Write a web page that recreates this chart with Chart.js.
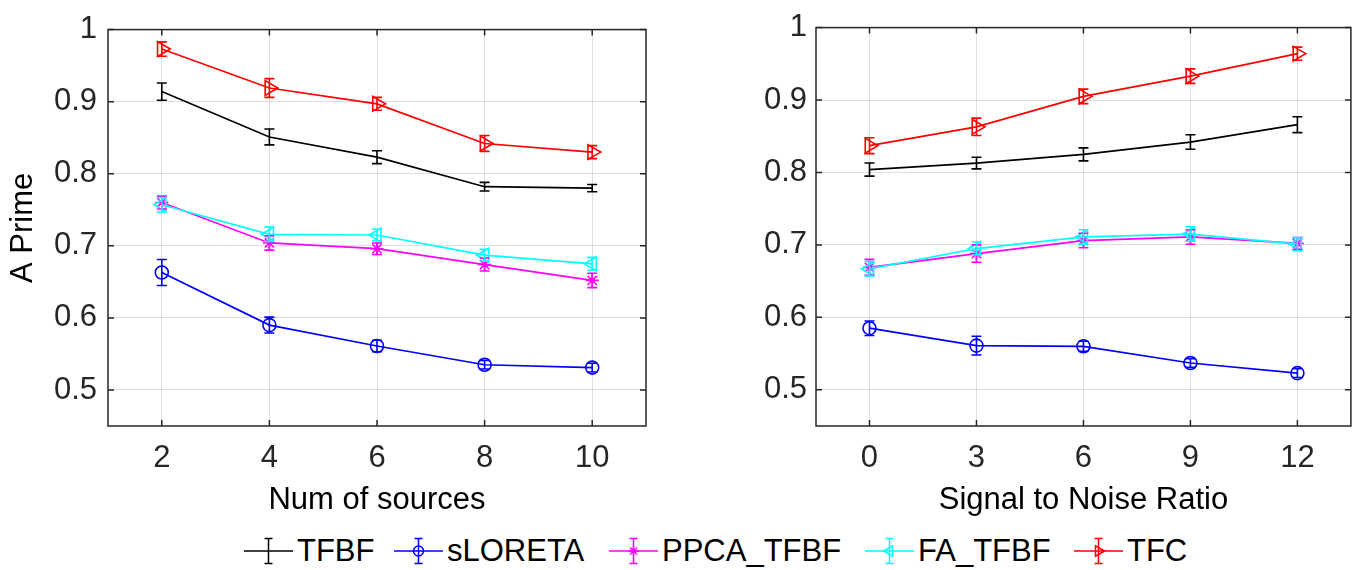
<!DOCTYPE html>
<html>
<head>
<meta charset="utf-8">
<script src="https://cdn.jsdelivr.net/npm/chart.js@4.4.0/dist/chart.umd.min.js"></script>
<style>
  body { margin: 0; width: 1361px; height: 570px; background: #fff; overflow: hidden; position: relative;
         font-family: "Liberation Sans", Arial, sans-serif; }
  #leftBox { position: absolute; left: 0; top: 0; width: 680px; height: 530px; }
  #rightBox { position: absolute; left: 680px; top: 0; width: 681px; height: 530px; }
  #legend { position: absolute; left: 0; top: 533px; width: 1361px; height: 36px; }
  .item { position: absolute; top: 0; height: 36px; display: flex; align-items: center; }
  .item span { font-size: 31px; margin-left: 4px; color: #000; white-space: nowrap; }
</style>
</head>
<body>
<div id="leftBox"><canvas id="leftChart"></canvas></div>
<div id="rightBox"><canvas id="rightChart"></canvas></div>
<div id="legend"></div>

<script>
// =========================
// Dados
// =========================

const seriesNames = ["TFBF", "sLORETA", "PPCA_TFBF", "FA_TFBF", "TFC"];

const sourcesX = [2, 4, 6, 8, 10];
const snrX = [0, 3, 6, 9, 12];
const yTickValues = [0.5, 0.6, 0.7, 0.8, 0.9, 1];

// painel esquerdo: numero de fontes
const tfbfSources = [0.914, 0.851, 0.823, 0.782, 0.780];
const tfbfSourcesErr = [0.012, 0.011, 0.009, 0.006, 0.005];
const sloretaSources = [0.663, 0.590, 0.561, 0.535, 0.531];
const sloretaSourcesErr = [0.018, 0.011, 0.008, 0.006, 0.006];
const ppcaSources = [0.760, 0.704, 0.696, 0.674, 0.652];
const ppcaSourcesErr = [0.009, 0.010, 0.008, 0.009, 0.010];
const faSources = [0.757, 0.716, 0.715, 0.687, 0.675];
const faSourcesErr = [0.010, 0.010, 0.008, 0.008, 0.009];
const tfcSources = [0.973, 0.919, 0.897, 0.842, 0.830];
const tfcSourcesErr = [0.010, 0.013, 0.009, 0.011, 0.009];

// painel direito: SNR
const tfbfSnr = [0.804, 0.813, 0.825, 0.842, 0.866];
const tfbfSnrErr = [0.009, 0.008, 0.009, 0.010, 0.011];
const sloretaSnr = [0.585, 0.561, 0.560, 0.537, 0.523];
const sloretaSnrErr = [0.010, 0.013, 0.007, 0.006, 0.006];
const ppcaSnr = [0.669, 0.688, 0.706, 0.711, 0.702];
const ppcaSnrErr = [0.011, 0.012, 0.010, 0.010, 0.008];
const faSnr = [0.667, 0.695, 0.711, 0.715, 0.701];
const faSnrErr = [0.010, 0.009, 0.010, 0.010, 0.009];
const tfcSnr = [0.837, 0.863, 0.905, 0.933, 0.964];
const tfcSnrErr = [0.011, 0.012, 0.010, 0.010, 0.009];

// =========================
// Estilo
// =========================

const FONT = '"Liberation Sans", Arial, sans-serif';
const AXIS_COLOR = "#262626";
const GRID_COLOR = "rgba(38,38,38,0.15)";
const CAP = 5;
const TICK_LEN = 6;

const seriesStyle = [
  { color: "#000000", pointStyle: "circle", radius: 0, rotation: 0, legendRadius: 0 },
  { color: "#0000ff", pointStyle: "circle", radius: 6.5, rotation: 0, legendRadius: 5 },
  { color: "#ff00ff", pointStyle: "star", radius: 6.5, rotation: 0, legendRadius: 5 },
  { color: "#00ffff", pointStyle: "triangle", radius: 8, rotation: -90, legendRadius: 6 },
  { color: "#ff0000", pointStyle: "triangle", radius: 8.5, rotation: 90, legendRadius: 6 },
];

const legendLeft = [244, 394, 609, 865, 1074];

Chart.defaults.font.family = FONT;
Chart.defaults.font.size = 31;
Chart.defaults.color = AXIS_COLOR;

// =========================
// Plugins
// =========================

const errorBarPlugin = {
  id: "errorBars",
  afterDatasetsDraw(chart) {
    const ctx = chart.ctx;
    const xs = chart.scales.x;
    const ys = chart.scales.y;
    chart.data.datasets.forEach((ds) => {
      ctx.save();
      ctx.strokeStyle = ds.borderColor;
      ctx.lineWidth = 1.6;
      ctx.beginPath();
      ds.data.forEach((p, j) => {
        const e = ds.errors[j];
        const px = xs.getPixelForValue(p.x);
        const top = ys.getPixelForValue(p.y + e);
        const bot = ys.getPixelForValue(p.y - e);
        ctx.moveTo(px, top);
        ctx.lineTo(px, bot);
        ctx.moveTo(px - CAP, top);
        ctx.lineTo(px + CAP, top);
        ctx.moveTo(px - CAP, bot);
        ctx.lineTo(px + CAP, bot);
      });
      ctx.stroke();
      ctx.restore();
    });
  },
};

const framePlugin = {
  id: "frame",
  afterDraw(chart) {
    const { ctx, chartArea: a } = chart;
    const xs = chart.scales.x;
    const ys = chart.scales.y;
    ctx.save();
    ctx.strokeStyle = AXIS_COLOR;
    ctx.lineWidth = 1.5;
    ctx.strokeRect(a.left, a.top, a.right - a.left, a.bottom - a.top);
    ctx.beginPath();
    xs.ticks.forEach((t) => {
      const px = xs.getPixelForValue(t.value);
      ctx.moveTo(px, a.bottom);
      ctx.lineTo(px, a.bottom - TICK_LEN);
      ctx.moveTo(px, a.top);
      ctx.lineTo(px, a.top + TICK_LEN);
    });
    ys.ticks.forEach((t) => {
      const py = ys.getPixelForValue(t.value);
      ctx.moveTo(a.left, py);
      ctx.lineTo(a.left + TICK_LEN, py);
      ctx.moveTo(a.right, py);
      ctx.lineTo(a.right - TICK_LEN, py);
    });
    ctx.stroke();
    ctx.restore();
  },
};

// =========================
// Graficos
// =========================

function makeDatasets(xValues, values, errors) {
  return values.map((vals, i) => {
    const st = seriesStyle[i];
    return {
      label: seriesNames[i],
      data: vals.map((v, j) => ({ x: xValues[j], y: v })),
      errors: errors[i],
      borderColor: st.color,
      backgroundColor: st.color,
      borderWidth: 1.7,
      pointStyle: st.pointStyle,
      pointRadius: st.radius,
      pointRotation: st.rotation,
      pointBorderColor: st.color,
      pointBackgroundColor: "rgba(0,0,0,0)",
      pointBorderWidth: 1.6,
      tension: 0,
      order: seriesNames.length - i,
    };
  });
}

function makeChart(canvasId, cfg) {
  return new Chart(document.getElementById(canvasId), {
    type: "line",
    data: { datasets: makeDatasets(cfg.xValues, cfg.values, cfg.errors) },
    options: {
      responsive: true,
      maintainAspectRatio: false,
      animation: false,
      layout: { padding: { top: 19, right: cfg.padRight, left: 0, bottom: 0 } },
      plugins: { legend: { display: false }, tooltip: { enabled: false } },
      scales: {
        x: {
          type: "linear",
          min: cfg.xMin,
          max: cfg.xMax,
          afterBuildTicks: (s) => { s.ticks = cfg.xValues.map((v) => ({ value: v })); },
          afterFit: (s) => { s.height = 104; },
          ticks: { padding: 14, color: AXIS_COLOR, maxRotation: 0 },
          grid: { color: GRID_COLOR, lineWidth: 1, drawTicks: false },
          border: { display: false },
          title: { display: true, text: cfg.xTitle, color: "#000", padding: { top: 0, bottom: 11 } },
        },
        y: {
          min: 0.45,
          max: 1,
          afterBuildTicks: (s) => { s.ticks = yTickValues.map((v) => ({ value: v })); },
          afterFit: (s) => { s.width = cfg.yWidth; },
          ticks: {
            padding: cfg.yPad,
            color: AXIS_COLOR,
            callback: (v) => (v === 1 ? "1" : v.toFixed(1)),
          },
          grid: { color: GRID_COLOR, lineWidth: 1, drawTicks: false },
          border: { display: false },
          title: { display: !!cfg.yTitle, text: cfg.yTitle || "", color: "#000", padding: { top: 5, bottom: 0 } },
        },
      },
    },
    plugins: [errorBarPlugin, framePlugin],
  });
}

makeChart("leftChart", {
  xValues: sourcesX,
  values: [tfbfSources, sloretaSources, ppcaSources, faSources, tfcSources],
  errors: [tfbfSourcesErr, sloretaSourcesErr, ppcaSourcesErr, faSourcesErr, tfcSourcesErr],
  xMin: 1, xMax: 11,
  xTitle: "Num of sources",
  yTitle: "A Prime",
  yWidth: 108, yPad: 11, padRight: 34,
});

makeChart("rightChart", {
  xValues: snrX,
  values: [tfbfSnr, sloretaSnr, ppcaSnr, faSnr, tfcSnr],
  errors: [tfbfSnrErr, sloretaSnrErr, ppcaSnrErr, faSnrErr, tfcSnrErr],
  xMin: -1.5, xMax: 13.5,
  xTitle: "Signal to Noise Ratio",
  yWidth: 136, yPad: 9, padRight: 9,
});

// =========================
// Legenda
// =========================

function drawLegendIcon(canvas, st) {
  const ctx = canvas.getContext("2d");
  const w = canvas.width, h = canvas.height;
  const cx = w / 2, cy = h / 2;
  ctx.strokeStyle = st.color;
  ctx.lineWidth = 1.5;
  ctx.beginPath();
  ctx.moveTo(0, cy); ctx.lineTo(w, cy);
  ctx.moveTo(cx, cy - 12.5); ctx.lineTo(cx, cy + 12.5);
  ctx.moveTo(cx - 4, cy - 12.5); ctx.lineTo(cx + 4, cy - 12.5);
  ctx.moveTo(cx - 4, cy + 12.5); ctx.lineTo(cx + 4, cy + 12.5);
  ctx.stroke();
  if (st.legendRadius > 0) {
    ctx.fillStyle = "rgba(0,0,0,0)";
    Chart.helpers.drawPoint(ctx, {
      pointStyle: st.pointStyle,
      rotation: st.rotation,
      radius: st.legendRadius,
      borderWidth: 1.5,
    }, cx, cy);
  }
}

const legendEl = document.getElementById("legend");
seriesNames.forEach((name, i) => {
  const item = document.createElement("div");
  item.className = "item";
  item.style.left = legendLeft[i] + "px";
  const icon = document.createElement("canvas");
  icon.width = 49;
  icon.height = 36;
  const label = document.createElement("span");
  label.textContent = name;
  item.appendChild(icon);
  item.appendChild(label);
  legendEl.appendChild(item);
  drawLegendIcon(icon, seriesStyle[i]);
});
</script>
</body>
</html>
